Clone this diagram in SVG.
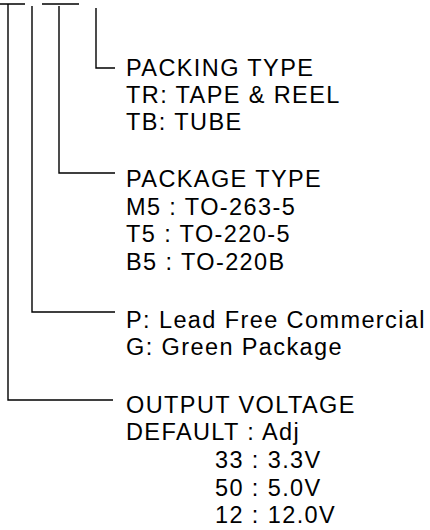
<svg xmlns="http://www.w3.org/2000/svg" width="430" height="530" viewBox="0 0 430 530">
<style>
text{font-family:"Liberation Sans",Arial,sans-serif;font-size:23.5px;letter-spacing:1.4px;fill:#000}
.c{fill:none;stroke:#000;stroke-width:1.4}
</style>
<rect width="430" height="530" fill="#fff"/>
<g id="connectors">
<path class="c" d="M0 4H25M42 4H79"/>
<path class="c" d="M96 8V68H115"/>
<path class="c" d="M59 6V173H115"/>
<path class="c" d="M32 6V312H115"/>
<path class="c" d="M8 4V400H113"/>
</g>
<g id="packing-type">
<text x="126" y="76">PACKING TYPE</text>
<text x="126" y="102.5">TR: TAPE &amp; REEL</text>
<text x="126" y="129.5">TB: TUBE</text>
</g>
<g id="package-type">
<text x="126" y="186.5">PACKAGE TYPE</text>
<text x="126" y="215">M5 : TO-263-5</text>
<text x="126" y="241.5">T5 : TO-220-5</text>
<text x="126" y="270">B5 : TO-220B</text>
</g>
<g id="lead-free">
<text x="126" y="328">P: Lead Free Commercial</text>
<text x="126" y="355">G: Green Package</text>
</g>
<g id="output-voltage">
<text x="126" y="413">OUTPUT VOLTAGE</text>
<text x="126" y="440">DEFAULT : Adj</text>
<text x="215" y="468">33 : 3.3V</text>
<text x="215" y="496">50 : 5.0V</text>
<text x="215" y="523">12 : 12.0V</text>
</g>
</svg>
